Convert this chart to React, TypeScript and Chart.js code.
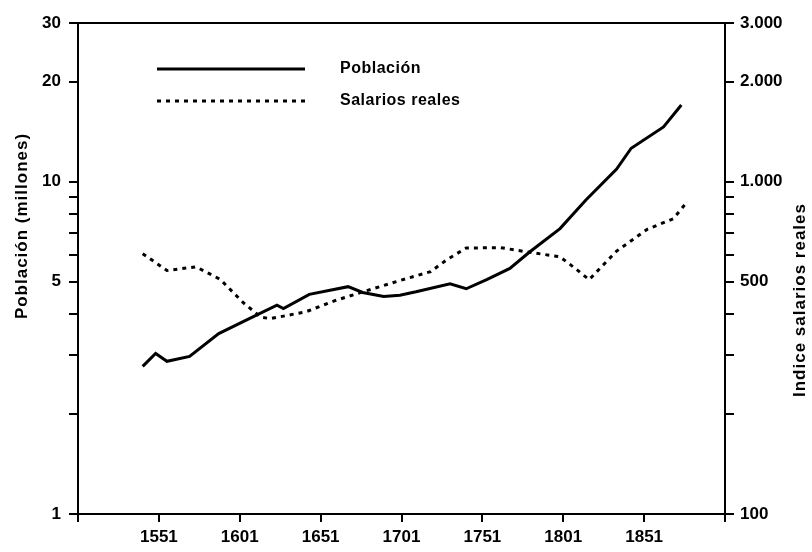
import React, { useEffect, useRef } from 'react';
import { Chart, registerables } from 'chart.js';

Chart.register(...registerables);

// ---- data ----
const popYears = [1541, 1549, 1556, 1570, 1588, 1611, 1624, 1628, 1644, 1668, 1677, 1690, 1700, 1710, 1731, 1741, 1754, 1768, 1780, 1799, 1815, 1834, 1843, 1863, 1874];
const popValues = [2.78, 3.04, 2.88, 2.98, 3.49, 3.96, 4.25, 4.15, 4.58, 4.83, 4.64, 4.51, 4.55, 4.66, 4.93, 4.76, 5.08, 5.48, 6.13, 7.22, 8.8, 10.9, 12.6, 14.6, 17.0];

const wageYears = [1541, 1556, 1574, 1589, 1603, 1614, 1620, 1642, 1659, 1679, 1700, 1719, 1729, 1741, 1762, 1780, 1799, 1808, 1817, 1834, 1853, 1869, 1877];
const wageValues = [607, 540, 554, 508, 433, 391, 387, 406, 437, 469, 504, 536, 582, 631, 633, 613, 594, 550, 507, 618, 719, 773, 862];

const seriesNames = ['Población', 'Salarios reales'];
const leftTitle = 'Población (millones)';
const rightTitle = 'Indice salarios reales';

const xTickYears = [1501, 1551, 1601, 1651, 1701, 1751, 1801, 1851, 1901];
const xLabelYears = [1551, 1601, 1651, 1701, 1751, 1801, 1851];
const popTicks = [1, 2, 3, 4, 5, 6, 7, 8, 9, 10, 20, 30];
const popLabels = [1, 5, 10, 20, 30];
const wageTicks = [100, 200, 300, 400, 500, 600, 700, 800, 900, 1000, 2000, 3000];
const wageLabels = [100, 500, 1000, 2000, 3000];

const FONT_FAMILY = '"Liberation Sans", Arial, Helvetica, sans-serif';

const fmtWage = (v: number) => (v >= 1000 ? `${Math.floor(v / 1000)}.${String(v % 1000).padStart(3, '0')}` : String(v));

const extrasPlugin = {
  id: 'extras',
  afterDraw(chart: any) {
    const ctx = chart.ctx as any;
    ctx.save();
    ctx.fillStyle = '#000';
    ctx.textBaseline = 'middle';

    // axis titles
    ctx.font = `bold 17px ${FONT_FAMILY}`;
    ctx.letterSpacing = '1px';
    ctx.textAlign = 'center';
    ctx.save();
    ctx.translate(22, 226);
    ctx.rotate(-Math.PI / 2);
    ctx.fillText(leftTitle, 0, 0);
    ctx.restore();
    ctx.save();
    ctx.translate(800, 300);
    ctx.rotate(-Math.PI / 2);
    ctx.fillText(rightTitle, 0, 0);
    ctx.restore();

    // legend
    ctx.letterSpacing = '0.5px';
    ctx.font = `bold 16px ${FONT_FAMILY}`;
    const rows = [69, 101];
    chart.data.datasets.forEach((ds: any, i: number) => {
      const y = rows[i];
      ctx.beginPath();
      ctx.setLineDash(ds.borderDash || []);
      ctx.lineWidth = ds.borderWidth;
      ctx.strokeStyle = ds.borderColor;
      ctx.moveTo(157, y);
      ctx.lineTo(305, y);
      ctx.stroke();
      ctx.setLineDash([]);
      ctx.textAlign = 'left';
      ctx.fillText(ds.label, 340, y);
    });
    ctx.restore();
  },
};

export default function App() {
  const ref = useRef<HTMLCanvasElement | null>(null);

  useEffect(() => {
    if (!ref.current) return;
    const tickFont = { family: FONT_FAMILY, size: 17, weight: 'bold' as const };
    const axisGrid = { drawOnChartArea: false, drawTicks: true, tickLength: 9, color: '#000', lineWidth: 2 };
    const axisBorder = { display: true, color: '#000', width: 2 };

    const chart = new Chart(ref.current, {
      type: 'line',
      data: {
        datasets: [
          {
            label: seriesNames[0],
            data: popYears.map((x, i) => ({ x, y: popValues[i] })),
            yAxisID: 'y',
            borderColor: '#000',
            borderWidth: 3,
            pointRadius: 0,
            tension: 0,
            fill: false,
          },
          {
            label: seriesNames[1],
            data: wageYears.map((x, i) => ({ x, y: wageValues[i] })),
            yAxisID: 'y1',
            borderColor: '#000',
            borderWidth: 3,
            borderDash: [4, 5],
            pointRadius: 0,
            tension: 0,
            fill: false,
          },
        ],
      },
      options: {
        animation: false,
        responsive: false,
        maintainAspectRatio: false,
        layout: { padding: { top: 23, left: 0, right: 0, bottom: 0 } },
        plugins: { legend: { display: false }, tooltip: { enabled: false } },
        scales: {
          x: {
            type: 'linear',
            position: 'bottom',
            min: 1501,
            max: 1901,
            afterBuildTicks: (s: any) => {
              s.ticks = xTickYears.map((v) => ({ value: v }));
            },
            afterFit: (s: any) => {
              s.height = 38;
            },
            ticks: {
              autoSkip: false,
              maxRotation: 0,
              padding: 5,
              color: '#000',
              font: tickFont,
              callback: (v: any) => (xLabelYears.includes(Number(v)) ? String(v) : ''),
            },
            grid: { ...axisGrid, tickLength: 8 },
            border: axisBorder,
          },
          xTop: {
            type: 'linear',
            position: 'top',
            min: 1501,
            max: 1901,
            ticks: { display: false },
            grid: { display: false },
            border: axisBorder,
            afterFit: (s: any) => {
              s.height = 0;
            },
          },
          y: {
            type: 'logarithmic',
            position: 'left',
            min: 1,
            max: 30,
            afterBuildTicks: (s: any) => {
              s.ticks = popTicks.map((v) => ({ value: v }));
            },
            afterFit: (s: any) => {
              s.width = 78;
            },
            ticks: {
              autoSkip: false,
              padding: 8,
              color: '#000',
              font: tickFont,
              callback: (v: any) => (popLabels.includes(Number(v)) ? String(v) : ''),
            },
            grid: axisGrid,
            border: axisBorder,
          },
          y1: {
            type: 'logarithmic',
            position: 'right',
            min: 100,
            max: 3000,
            afterBuildTicks: (s: any) => {
              s.ticks = wageTicks.map((v) => ({ value: v }));
            },
            afterFit: (s: any) => {
              s.width = 87;
            },
            ticks: {
              autoSkip: false,
              padding: 6,
              color: '#000',
              font: tickFont,
              callback: (v: any) => (wageLabels.includes(Number(v)) ? fmtWage(Number(v)) : ''),
            },
            grid: axisGrid,
            border: axisBorder,
          },
        },
      },
      plugins: [extrasPlugin],
    });

    return () => chart.destroy();
  }, []);

  return (
    <div style={{ position: 'fixed', left: 0, top: 0, width: 812, height: 552, background: '#fff' }}>
      <canvas ref={ref} width={812} height={552} style={{ display: 'block' }} />
    </div>
  );
}
